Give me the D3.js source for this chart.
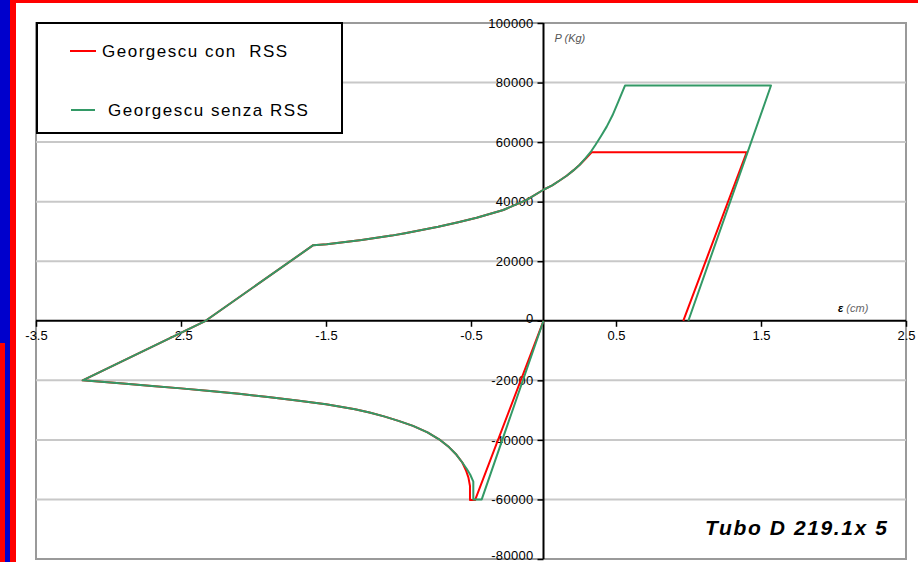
<!DOCTYPE html>
<html>
<head>
<meta charset="utf-8">
<script src="https://cdn.jsdelivr.net/npm/d3@7"></script>
<style>
  html, body { margin: 0; padding: 0; background: #fff; }
  svg { display: block; font-family: "Liberation Sans", Arial, sans-serif; }
</style>
</head>
<body>
<svg id="chart" width="918" height="562"></svg>
<script>
// ---- data ----
const seriesNames = ["Georgescu con  RSS", "Georgescu senza RSS"];

// red: Georgescu con RSS  (x = displacement in cm, P in Kg)
const redX = [0, -0.472, -0.507, -0.507, -0.518, -0.535, -0.56, -0.6, -0.65, -0.72, -0.8, -0.9, -1.0, -1.1, -1.2, -1.3, -1.5, -1.7, -1.9, -2.1, -2.3, -2.5, -2.7, -2.9, -3.178,
  -2.33, -1.588, -1.495, -1.254, -1.047, -0.955, -0.726, -0.588, -0.461, -0.277, -0.116, 0, 0.06, 0.114, 0.16, 0.206, 0.25, 0.29, 0.332, 1.401, 0.964];
const redP = [0, -60200, -60200, -55500, -52600, -50200, -47600, -45000, -42500, -39800, -37500, -35300, -33600, -32100, -30800, -29700, -28000, -26800, -25600, -24500, -23600, -22700, -21900, -21100, -20000,
  0, 25400, 25700, 27100, 28600, 29400, 31600, 33100, 34600, 37200, 40600, 44000, 45500, 47200, 48700, 50500, 52400, 54400, 56600, 56600, 0];

// green: Georgescu senza RSS
const greenX = [0, -0.426, -0.484, -0.484, -0.505, -0.53, -0.56, -0.6, -0.65, -0.72, -0.8, -0.9, -1.0, -1.1, -1.2, -1.3, -1.5, -1.7, -1.9, -2.1, -2.3, -2.5, -2.7, -2.9, -3.178,
  -2.33, -1.588, -1.495, -1.254, -1.047, -0.955, -0.726, -0.588, -0.461, -0.277, -0.116, 0, 0.06, 0.114, 0.16, 0.206, 0.25, 0.29, 0.33, 0.36, 0.395, 0.436, 0.476, 0.516, 0.562, 1.569, 0.999];
const greenP = [0, -60000, -60000, -54000, -51700, -49700, -47600, -45000, -42500, -39800, -37500, -35300, -33600, -32100, -30800, -29700, -28000, -26800, -25600, -24500, -23600, -22700, -21900, -21100, -20000,
  0, 25400, 25700, 27100, 28600, 29400, 31600, 33100, 34600, 37200, 40600, 44000, 45500, 47200, 48700, 50500, 52400, 54600, 57000, 59200, 61900, 65200, 69000, 73600, 79000, 79000, 0];

const xTicks = [-3.5, -2.5, -1.5, -0.5, 0.5, 1.5, 2.5];
const xTickLabels = ["-3.5", "-2.5", "-1.5", "-0.5", "0.5", "1.5", "2.5"];
const yTicks = [100000, 80000, 60000, 40000, 20000, 0, -20000, -40000, -60000, -80000];
const yTickLabels = ["100000", "80000", "60000", "40000", "20000", "0", "-20000", "-40000", "-60000", "-80000"];

const colors = ["#ff0000", "#339966"];

// ---- drawing ----
const svg = d3.select("#chart");
const W = 918, H = 562;
const plot = { left: 36, right: 906, top: 23, bottom: 559 };

const x = d3.scaleLinear().domain([-3.5, 2.5]).range([plot.left, plot.right]);
const y = d3.scaleLinear().domain([-80000, 100000]).range([plot.bottom, plot.top]);

// frame decorations
svg.append("rect").attr("x", 0).attr("y", 0).attr("width", W).attr("height", H).attr("fill", "#fff");
svg.append("rect").attr("x", 0).attr("y", 0).attr("width", 10).attr("height", H).attr("fill", "#0000cc");
svg.append("rect").attr("x", 10).attr("y", 0).attr("width", 6).attr("height", H).attr("fill", "#ff0000");
svg.append("rect").attr("x", 10).attr("y", 0).attr("width", W - 10).attr("height", 3).attr("fill", "#ff0000");
svg.append("rect").attr("x", 0).attr("y", 343).attr("width", 5).attr("height", H - 343).attr("fill", "#ff0000");

// plot area
svg.append("rect")
  .attr("x", plot.left).attr("y", plot.top)
  .attr("width", plot.right - plot.left).attr("height", plot.bottom - plot.top)
  .attr("fill", "#fff").attr("stroke", "#9a9a9a").attr("stroke-width", 2);

// gridlines
svg.append("g").selectAll("line")
  .data(yTicks.filter(v => v !== 0 && v !== 100000 && v !== -80000))
  .join("line")
  .attr("x1", plot.left).attr("x2", plot.right)
  .attr("y1", d => y(d)).attr("y2", d => y(d))
  .attr("stroke", "#c8c8c8").attr("stroke-width", 2);

// y axis
const yAxis = d3.axisLeft(y).tickValues(yTicks)
  .tickFormat((d, i) => yTickLabels[i]).tickSize(6).tickPadding(4);
const gy = svg.append("g").attr("transform", `translate(${x(0)},0)`).call(yAxis);
gy.select(".domain").remove();
gy.selectAll(".tick line").attr("stroke", "#000").attr("stroke-width", 1.5);
gy.selectAll(".tick text").attr("font-size", 13).attr("fill", "#000")
  .attr("letter-spacing", "0.3px").attr("font-family", "Liberation Sans, Arial, sans-serif");
gy.selectAll(".tick").filter(d => d === 0).select("text").attr("dy", "0.1em");
gy.selectAll(".tick").filter(d => d === -80000).select("text").attr("dy", "0.05em");

// x axis
const xAxis = d3.axisBottom(x).tickValues(xTicks)
  .tickFormat((d, i) => xTickLabels[i]).tickSize(6).tickPadding(4);
const gx = svg.append("g").attr("transform", `translate(0,${y(0)})`).call(xAxis);
gx.select(".domain").remove();
gx.selectAll(".tick line").attr("stroke", "#000").attr("stroke-width", 1.5);
gx.selectAll(".tick text").attr("font-size", 13).attr("fill", "#000")
  .attr("font-family", "Liberation Sans, Arial, sans-serif");

// axis lines
svg.append("line").attr("x1", plot.left).attr("x2", plot.right)
  .attr("y1", y(0)).attr("y2", y(0)).attr("stroke", "#000").attr("stroke-width", 2);
svg.append("line").attr("x1", x(0)).attr("x2", x(0))
  .attr("y1", plot.top).attr("y2", plot.bottom).attr("stroke", "#000").attr("stroke-width", 2);

// axis titles
svg.append("text").attr("x", x(0) + 11).attr("y", y(100000) + 19)
  .attr("font-size", 11).attr("font-style", "italic").attr("fill", "#555").text("P (Kg)");
const et = svg.append("text").attr("x", 838).attr("y", y(0) - 9).attr("font-size", 11).attr("font-style", "italic");
et.append("tspan").attr("fill", "#000").attr("font-weight", "bold").text("ε ");
et.append("tspan").attr("fill", "#666").text("(cm)");

// series
const line = d3.line().x(d => x(d[0])).y(d => y(d[1]));
const redData = redX.map((v, i) => [v, redP[i]]);
const greenData = greenX.map((v, i) => [v, greenP[i]]);
svg.append("path").datum(redData).attr("d", line)
  .attr("fill", "none").attr("stroke", colors[0]).attr("stroke-width", 2).attr("stroke-linejoin", "round");
svg.append("path").datum(greenData).attr("d", line)
  .attr("fill", "none").attr("stroke", colors[1]).attr("stroke-width", 2).attr("stroke-linejoin", "round");

// legend
const lg = svg.append("g");
lg.append("rect").attr("x", 37).attr("y", 23).attr("width", 305).attr("height", 110)
  .attr("fill", "#fff").attr("stroke", "#000").attr("stroke-width", 2);
const legendRows = [
  { y: 51, x1: 70, x2: 96, tx: 102 },
  { y: 110, x1: 71, x2: 95, tx: 108 }
];
legendRows.forEach((r, i) => {
  lg.append("line").attr("x1", r.x1).attr("x2", r.x2).attr("y1", r.y).attr("y2", r.y)
    .attr("stroke", colors[i]).attr("stroke-width", 2);
  lg.append("text").attr("x", r.tx).attr("y", r.y).attr("dy", "0.35em")
    .attr("font-size", 17).attr("letter-spacing", "1.5px").attr("fill", "#000")
    .attr("xml:space", "preserve").style("white-space", "pre")
    .text(seriesNames[i]);
});

// annotation
svg.append("text").attr("x", 705).attr("y", 535)
  .attr("font-size", 21).attr("font-weight", "bold").attr("font-style", "italic")
  .attr("letter-spacing", "1.6px").attr("fill", "#000")
  .text("Tubo D 219.1x 5");
</script>
</body>
</html>
